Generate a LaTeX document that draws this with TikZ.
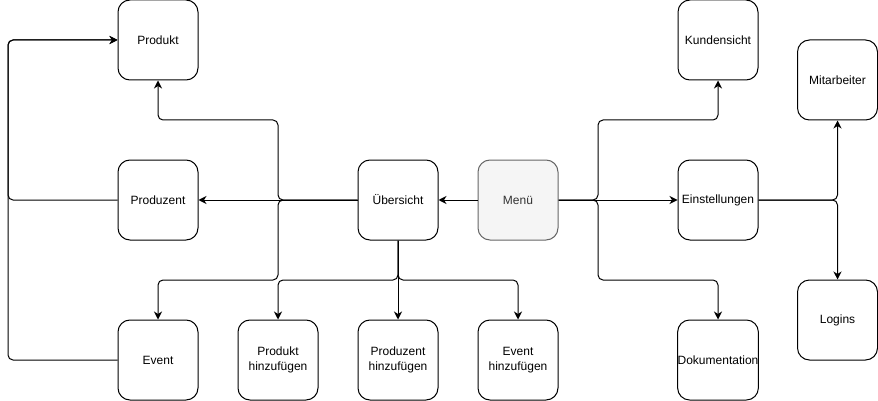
\documentclass[tikz,border=0pt]{standalone}
\usepackage{fontspec}
\setmainfont{Liberation Sans}
\usetikzlibrary{arrows.meta}
\definecolor{menufill}{HTML}{F5F5F5}
\definecolor{menustroke}{HTML}{666666}
\definecolor{menutext}{HTML}{333333}
\begin{document}
\begin{tikzpicture}[x=1pt,y=-1pt,
  box/.style={draw=black, line width=1pt, rounded corners=12pt, minimum width=80pt, minimum height=80pt, inner sep=0pt, align=center, font=\fontsize{12}{15}\selectfont, fill=white},
  graybox/.style={box, fill=menufill, draw=menustroke, text=menutext},
  arr/.style={line width=1pt, rounded corners=5pt, -{Stealth[length=8pt,width=8pt,inset=2.5pt]}},
  ]
\useasboundingbox (0,0) rectangle (878,401);
% nodes
\node[box] (prod) at (158,40) {Produkt};
\node[box] (kund) at (718,40) {Kundensicht};
\node[box] (mit) at (837.5,80) {Mitarbeiter};
\node[box] (pz) at (158,200) {Produzent};
\node[box] (ueb) at (398,200) {Übersicht};
\node[graybox] (menu) at (518,200) {Menü};
\node[box] (einst) at (718,200) {Einstellungen};
\node[box] (log) at (837.5,320) {Logins};
\node[box] (ev) at (158,360) {Event};
\node[box] (ph) at (278,360) {Produkt\\hinzufügen};
\node[box] (pzh) at (398,360) {Produzent\\hinzufügen};
\node[box] (evh) at (518,360) {Event\\hinzufügen};
\node[box] (doku) at (718,360) {Dokumentation};
% edges
\draw[arr] (menu.west) -- (ueb.east);
\draw[arr] (menu.east) -- (einst.west);
\draw[arr] (menu.east) -- (598,200) -- (598,120) -- (718,120) -- (kund.south);
\draw[arr] (menu.east) -- (598,200) -- (598,280) -- (718,280) -- (doku.north);
\draw[arr] (einst.east) -- (837.5,200) -- (mit.south);
\draw[arr] (einst.east) -- (837.5,200) -- (log.north);
\draw[arr] (ueb.west) -- (pz.east);
\draw[arr] (ueb.west) -- (278,200) -- (278,120) -- (158,120) -- (prod.south);
\draw[arr] (ueb.west) -- (278,200) -- (278,280) -- (158,280) -- (ev.north);
\draw[arr] (ueb.south) -- (pzh.north);
\draw[arr] (ueb.south) -- (398,280) -- (278,280) -- (ph.north);
\draw[arr] (ueb.south) -- (398,280) -- (518,280) -- (evh.north);
\draw[arr] (pz.west) -- (8,200) -- (8,40) -- (prod.west);
\draw[arr] (ev.west) -- (8,360) -- (8,40) -- (prod.west);
\end{tikzpicture}
\end{document}
